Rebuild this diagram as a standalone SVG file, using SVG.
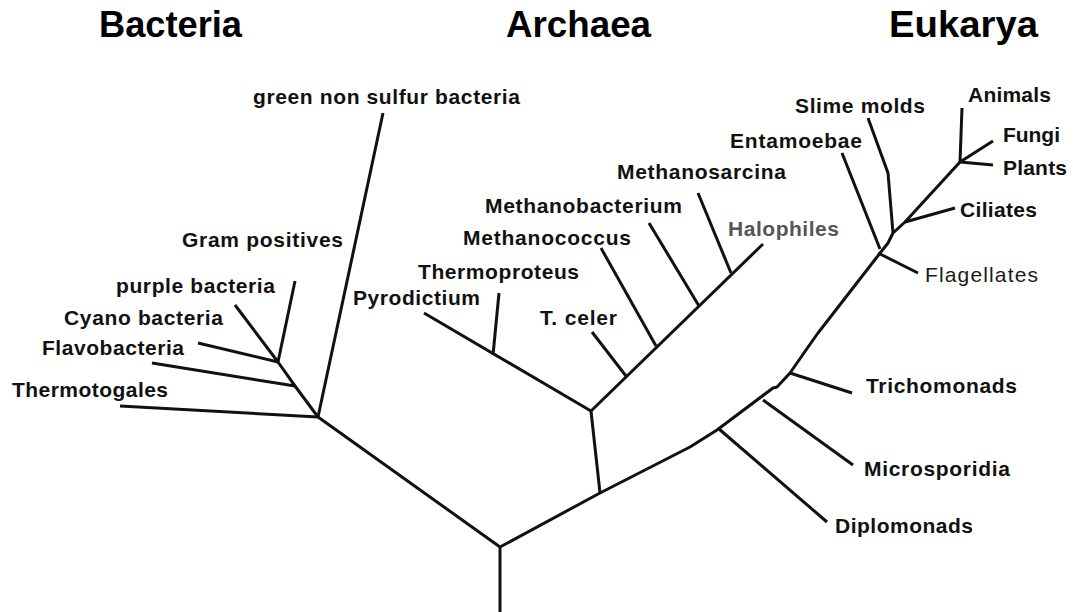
<svg xmlns="http://www.w3.org/2000/svg" width="1073" height="612" viewBox="0 0 1073 612">
<style>
.t{font-family:"Liberation Sans",Arial,sans-serif;font-weight:bold;font-size:36px;fill:#000}
.l{font-family:"Liberation Sans",Arial,sans-serif;font-weight:bold;font-size:21px;fill:#111}
.g{fill:#555}
.n{font-weight:normal;fill:#1a1a1a}
.c{fill:none;stroke:#111;stroke-width:3;stroke-linejoin:round;stroke-linecap:butt}
</style>
<rect width="1073" height="612" fill="#fff"/>
<g id="titles">
<text class="t" x="99" y="37" textLength="143" lengthAdjust="spacingAndGlyphs">Bacteria</text>
<text class="t" x="506" y="37" textLength="145" lengthAdjust="spacingAndGlyphs">Archaea</text>
<text class="t" x="889" y="37" textLength="149" lengthAdjust="spacingAndGlyphs">Eukarya</text>
</g>
<g id="connectors" class="c">
<polyline points="500,612 500,547 318,417"/>
<polyline points="318,417 295,386 278,362"/>
<line x1="318" y1="417" x2="383" y2="113"/>
<line x1="318" y1="417" x2="120" y2="406"/>
<line x1="295" y1="386" x2="152" y2="363"/>
<line x1="278" y1="362" x2="198" y2="343"/>
<line x1="278" y1="362" x2="235" y2="305"/>
<line x1="278" y1="362" x2="295" y2="281"/>
<polyline points="500,547 600,493 690,447 717,430 773,388 777,387 790,373 813,340 818,333 877,257 888,243 893,233 905,222 960,162"/>
<line x1="600" y1="493" x2="591" y2="411"/>
<line x1="591" y1="411" x2="424" y2="313"/>
<line x1="493" y1="355" x2="499" y2="293"/>
<line x1="591" y1="411" x2="763" y2="244"/>
<line x1="626" y1="376" x2="592" y2="332"/>
<line x1="656" y1="346" x2="601" y2="248"/>
<line x1="699" y1="306" x2="649" y2="223"/>
<line x1="731" y1="273" x2="698" y2="193"/>
<line x1="719" y1="429" x2="827" y2="522"/>
<line x1="763" y1="400" x2="853" y2="465"/>
<line x1="790" y1="373" x2="852" y2="393"/>
<line x1="878" y1="253" x2="918" y2="273"/>
<line x1="880" y1="249" x2="842" y2="153"/>
<polyline points="893,233 888,173 868,118"/>
<line x1="905" y1="222" x2="955" y2="208"/>
<line x1="960" y1="162" x2="962" y2="108"/>
<line x1="960" y1="162" x2="993" y2="141"/>
<line x1="960" y1="162" x2="993" y2="165"/>
</g>
<g id="green-non-sulfur"><text class="l" x="253" y="104" font-size="20" textLength="267">green non sulfur bacteria</text></g>
<g id="gram-positives"><text class="l" x="182" y="247" textLength="161">Gram positives</text></g>
<g id="purple-bacteria"><text class="l" x="116" y="293" font-size="20" textLength="159">purple bacteria</text></g>
<g id="cyano-bacteria"><text class="l" x="64" y="325" font-size="20" textLength="159">Cyano bacteria</text></g>
<g id="flavobacteria"><text class="l" x="42" y="355" textLength="142">Flavobacteria</text></g>
<g id="thermotogales"><text class="l" x="12" y="397" font-size="22" textLength="156">Thermotogales</text></g>
<g id="pyrodictium"><text class="l" x="353" y="305" font-size="20" textLength="127">Pyrodictium</text></g>
<g id="thermoproteus"><text class="l" x="418" y="279" font-size="22" textLength="161">Thermoproteus</text></g>
<g id="t-celer"><text class="l" x="540" y="325" textLength="77">T. celer</text></g>
<g id="methanococcus"><text class="l" x="463" y="245" font-size="22" textLength="168">Methanococcus</text></g>
<g id="methanobacterium"><text class="l" x="485" y="213" font-size="22" textLength="197">Methanobacterium</text></g>
<g id="methanosarcina"><text class="l" x="617" y="179" textLength="169">Methanosarcina</text></g>
<g id="halophiles"><text class="l g" x="728" y="236" font-size="22" textLength="111">Halophiles</text></g>
<g id="entamoebae"><text class="l" x="730" y="148" textLength="132">Entamoebae</text></g>
<g id="slime-molds"><text class="l" x="795" y="113" font-size="22" textLength="130">Slime molds</text></g>
<g id="animals"><text class="l" x="968" y="102" textLength="83">Animals</text></g>
<g id="fungi"><text class="l" x="1003" y="142" font-size="22" textLength="57">Fungi</text></g>
<g id="plants"><text class="l" x="1003" y="175" font-size="22" textLength="64">Plants</text></g>
<g id="ciliates"><text class="l" x="960" y="217" font-size="22" textLength="77">Ciliates</text></g>
<g id="flagellates"><text class="l n" x="925" y="282" font-size="23" textLength="113">Flagellates</text></g>
<g id="trichomonads"><text class="l" x="866" y="393" font-size="23" textLength="151">Trichomonads</text></g>
<g id="microsporidia"><text class="l" x="864" y="476" font-size="23" textLength="146">Microsporidia</text></g>
<g id="diplomonads"><text class="l" x="835" y="533" font-size="23" textLength="138">Diplomonads</text></g>
</svg>
